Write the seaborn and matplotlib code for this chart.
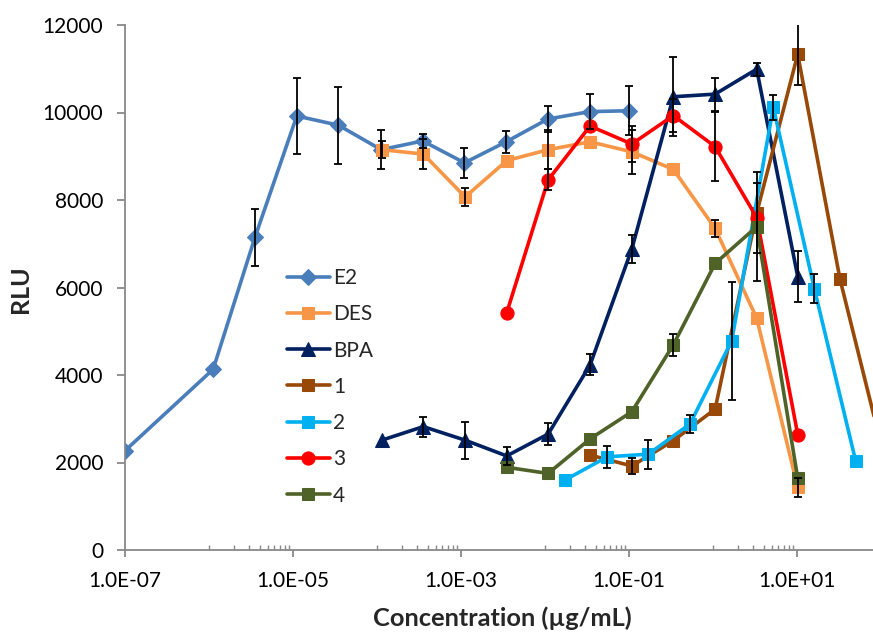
import matplotlib
matplotlib.use("Agg")
import matplotlib.pyplot as plt
from matplotlib.ticker import FixedLocator, FuncFormatter
import seaborn as sns
import pandas as pd

# ---------------- data ----------------
series_names = ["E2", "DES", "BPA", "1", "2", "3", "4"]

e2_conc = [1.0e-7, 1.12e-6, 3.53e-6, 1.11e-5, 3.47e-5, 1.12e-4, 3.5e-4, 1.1e-3, 3.45e-3, 1.08e-2, 3.4e-2, 0.1]
e2_rlu = [2270, 4130, 7150, 9920, 9710, 9150, 9350, 8850, 9330, 9850, 10020, 10040]
e2_err = [0, 0, 650, 860, 880, 450, 150, 350, 250, 300, 400, 560]

des_conc = [1.14e-4, 3.56e-4, 1.12e-3, 3.5e-3, 1.09e-2, 3.44e-2, 0.108, 0.337, 1.06, 3.31, 10.2]
des_rlu = [9150, 9050, 8070, 8900, 9150, 9330, 9100, 8700, 7350, 5300, 1430]
des_err = [200, 350, 200, 0, 450, 0, 500, 0, 190, 0, 220]

bpa_conc = [1.14e-4, 3.56e-4, 1.12e-3, 3.5e-3, 1.09e-2, 3.44e-2, 0.108, 0.337, 1.06, 3.31, 10.2]
bpa_rlu = [2510, 2820, 2510, 2150, 2650, 4230, 6880, 10360, 10420, 10990, 6250]
bpa_err = [0, 230, 420, 200, 250, 240, 320, 900, 380, 150, 590]

s1_conc = [3.44e-2, 0.108, 0.337, 1.06, 3.31, 10.2, 32.5, 102]
s1_rlu = [2170, 1920, 2500, 3220, 7700, 11330, 6190, 2350]
s1_err = [0, 190, 0, 0, 0, 700, 0, 0]

s2_conc = [1.73e-2, 5.52e-2, 0.170, 0.532, 1.67, 5.22, 16.1, 50.0]
s2_rlu = [1600, 2130, 2190, 2880, 4780, 10120, 5970, 2030]
s2_err = [0, 250, 330, 200, 1350, 280, 330, 0]

s3_conc = [3.5e-3, 1.09e-2, 3.44e-2, 0.108, 0.337, 1.06, 3.31, 10.2]
s3_rlu = [5420, 8460, 9690, 9280, 9930, 9220, 7600, 2640]
s3_err = [0, 240, 0, 410, 370, 790, 800, 0]

s4_conc = [3.5e-3, 1.09e-2, 3.44e-2, 0.108, 0.337, 1.06, 3.31, 10.2]
s4_rlu = [1890, 1750, 2540, 3160, 4690, 6550, 7390, 1640]
s4_err = [0, 0, 0, 0, 250, 0, 1250, 0]

y_ticks = [0, 2000, 4000, 6000, 8000, 10000, 12000]
x_major = [1e-7, 1e-5, 1e-3, 1e-1, 1e1]

# ---------------- styling ----------------
colors = {"E2": "#4A7EBB", "DES": "#F79646", "BPA": "#002060",
          "1": "#984807", "2": "#00B0F0", "3": "#FF0000", "4": "#4F6228"}
markers = {"E2": "D", "DES": "s", "BPA": "^", "1": "s", "2": "s", "3": "o", "4": "s"}
msizes = {"E2": 8, "DES": 9, "BPA": 9.5, "1": 9, "2": 9, "3": 9.5, "4": 9}

data = {
    "E2": (e2_conc, e2_rlu, e2_err),
    "DES": (des_conc, des_rlu, des_err),
    "BPA": (bpa_conc, bpa_rlu, bpa_err),
    "1": (s1_conc, s1_rlu, s1_err),
    "2": (s2_conc, s2_rlu, s2_err),
    "3": (s3_conc, s3_rlu, s3_err),
    "4": (s4_conc, s4_rlu, s4_err),
}

sns.set_theme(style="white")
plt.rcParams["font.family"] = ["Lato", "DejaVu Sans"]

W, H = 873, 633
fig = plt.figure(figsize=(W / 100, H / 100), dpi=100)
ax = fig.add_axes([125 / W, (H - 550) / H, (W - 125) / W, 525 / H])

for name in series_names:
    c, v, e = data[name]
    df = pd.DataFrame({"conc": c, "rlu": v})
    sns.lineplot(data=df, x="conc", y="rlu", ax=ax, color=colors[name],
                 marker=markers[name], markersize=msizes[name],
                 markeredgecolor=colors[name], markerfacecolor=colors[name],
                 linewidth=2.6, label=name, sort=False, errorbar=None, estimator=None)

for name in series_names:
    c, v, e = data[name]
    xs = [x for x, err in zip(c, e) if err > 0]
    ys = [y for y, err in zip(v, e) if err > 0]
    es = [err for err in e if err > 0]
    ax.errorbar(xs, ys, yerr=es, fmt="none", ecolor="black", elinewidth=1.3,
                capsize=3, capthick=1.3, zorder=3)

ax.set_xscale("log")
ax.set_xlim(1e-7, 10 ** ((W - 125) / 84 - 7))
ax.set_ylim(0, 12000)

ax.xaxis.set_major_locator(FixedLocator(x_major))
minor = []
for m in x_major:
    for k in range(1, 10):
        minor.append(m * 10 * k)
ax.xaxis.set_minor_locator(FixedLocator(minor))
ax.xaxis.set_major_formatter(FuncFormatter(lambda v, p: "%.1E" % v))
ax.xaxis.set_minor_formatter(FuncFormatter(lambda v, p: ""))
ax.set_yticks(y_ticks)

spine_col = "#898989"
for s in ["top", "right"]:
    ax.spines[s].set_visible(False)
for s in ["left", "bottom"]:
    ax.spines[s].set_color(spine_col)
    ax.spines[s].set_linewidth(1.3)

ax.tick_params(axis="x", which="major", direction="out", length=5.3, width=1.3,
               color=spine_col, labelsize=15, pad=9.5, bottom=True)
ax.tick_params(axis="x", which="minor", direction="in", length=3.6, width=1.0,
               color=spine_col, bottom=True)
ax.tick_params(axis="y", which="major", direction="out", length=5.8, width=1.3,
               color=spine_col, labelsize=15, pad=10, left=True)
for lab in ax.get_xticklabels() + ax.get_yticklabels():
    lab.set_color("#000000")

ax.set_xlabel("")
ax.set_ylabel("")
fig.text(502 / W, 1 - 618 / H, "Concentration (µg/mL)", fontsize=18.3,
         fontweight="bold", ha="center", va="center")
fig.text(20 / W, 1 - 289 / H, "RLU", fontsize=18, fontweight="bold",
         ha="center", va="center", rotation=90)
ax.grid(False)

leg = ax.legend(loc="upper left", bbox_to_anchor=(287 / W, 1 - 268 / H),
                bbox_transform=fig.transFigure, frameon=False, fontsize=15,
                handlelength=2.06, handletextpad=0.15, labelspacing=0.78,
                borderpad=0, borderaxespad=0)

fig.savefig("out.png", dpi=100)
